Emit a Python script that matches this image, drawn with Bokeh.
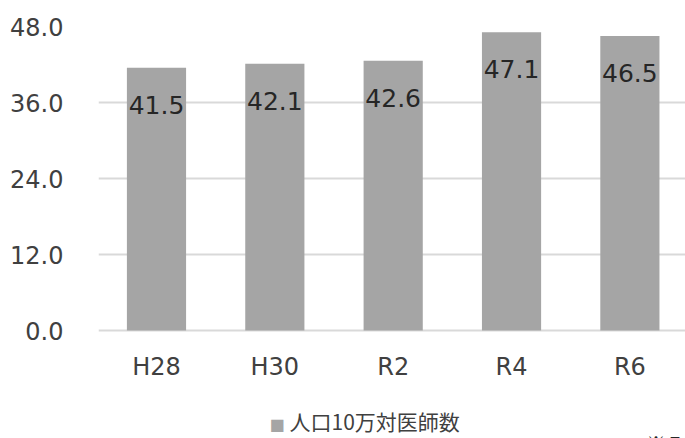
from bokeh.plotting import figure
from bokeh.models import Range1d, ColumnDataSource, FixedTicker, Label
from bokeh.core.properties import value
from bokeh.embed import file_html
from bokeh.resources import INLINE

categories = ["H28", "H30", "R2", "R4", "R6"]
values = [41.5, 42.1, 42.6, 47.1, 46.5]
value_labels = ["41.5", "42.1", "42.6", "47.1", "46.5"]
y_ticks = [0, 12, 24, 36, 48]
series_name = "人口10万対医師数"
note_text = "※ 7"

xs = list(range(len(categories)))
src = ColumnDataSource(dict(x=xs, top=values, lab=value_labels))
cat_src = ColumnDataSource(dict(x=xs, y=[0] * len(xs), lab=categories))

# frame runs to the bottom of the canvas; the band below 0 holds category labels and legend
p = figure(width=685, height=438, output_backend="svg", toolbar_location=None,
           x_range=Range1d(-0.49, 4.47), y_range=Range1d(-17.05, 48),
           min_border_left=98, min_border_right=0, min_border_top=26, min_border_bottom=0)
p.outline_line_color = None
p.background_fill_color = "white"
p.border_fill_color = "white"
p.xaxis.visible = False

p.vbar(x="x", top="top", width=0.5, bottom=0, source=src, color="#a5a5a5", line_color=None)

p.text(x="x", y="top", text="lab", source=src, text_align="center", text_baseline="middle",
       y_offset=37, text_font=value("DejaVu Sans"), text_font_size="25px", text_color="#262626")

# category labels under the bars
p.text(x="x", y="y", text="lab", source=cat_src, text_align="center", text_baseline="middle",
       y_offset=36, text_font=value("DejaVu Sans"), text_font_size="24px", text_color="#404040")

p.xgrid.visible = False
p.ygrid.ticker = FixedTicker(ticks=y_ticks)
p.ygrid.grid_line_color = "#d9d9d9"
p.ygrid.grid_line_width = 2

p.yaxis.ticker = FixedTicker(ticks=y_ticks)
p.yaxis.major_label_overrides = {t: f"{t:.1f}" for t in y_ticks}
p.yaxis.axis_line_color = None
p.yaxis.major_tick_line_color = None
p.yaxis.minor_tick_line_color = None
p.yaxis.major_label_standoff = 29
p.yaxis.major_label_text_font = "DejaVu Sans"
p.yaxis.major_label_text_font_size = "24px"
p.yaxis.major_label_text_color = "#404040"

# legend (screen units relative to the plot frame: left = 98 px, bottom = canvas bottom)
p.add_layout(Label(x=171, y=5, x_units="screen", y_units="screen", text="■",
                   text_font="DejaVu Sans", text_font_size="16px", text_color="#a5a5a5"))
p.add_layout(Label(x=191, y=3, x_units="screen", y_units="screen", text=series_name,
                   text_font="Noto Sans CJK JP", text_font_size="21px", text_color="#404040"))
p.add_layout(Label(x=548, y=-17, x_units="screen", y_units="screen", text=note_text,
                   text_font="Noto Sans CJK JP", text_font_size="19px", text_color="#262626"))

open("out.html", "w").write(file_html(p, INLINE))
